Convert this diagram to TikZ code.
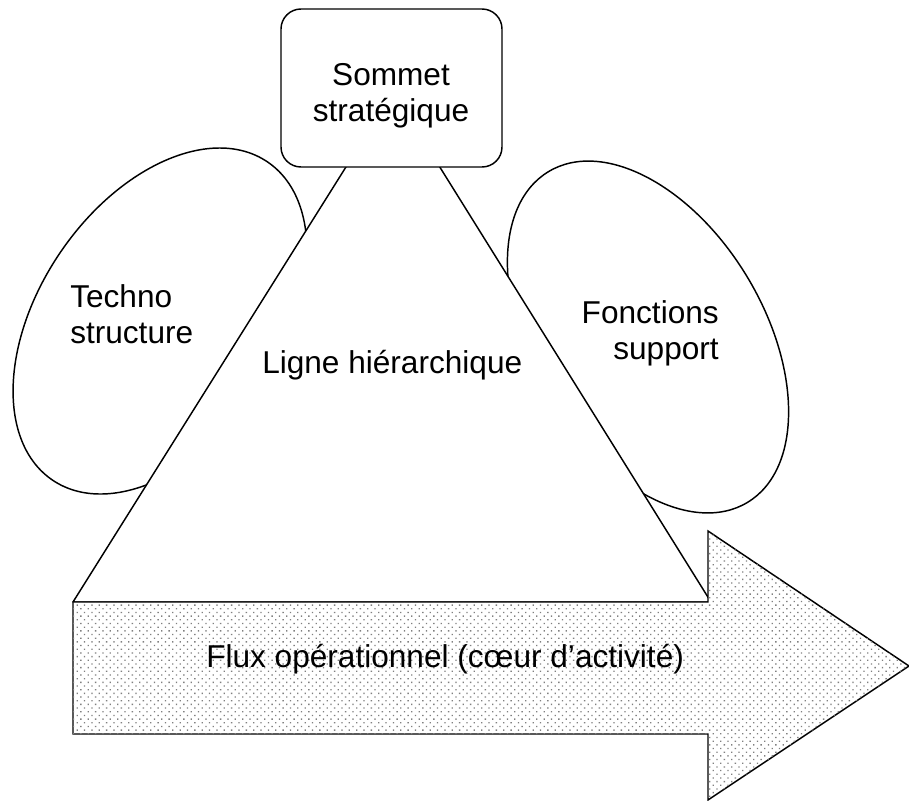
\documentclass[tikz,border=0pt]{standalone}
\usepackage{fontspec}
\setmainfont{Liberation Sans}
\usetikzlibrary{patterns.meta}
\begin{document}
\begin{tikzpicture}[x=0.75pt,y=-0.75pt,
  outline/.style={draw=black,line width=1.1pt,fill=white},
  lbl/.style={inner sep=0pt,font=\fontsize{23.7}{26.5}\selectfont},
  dotfill/.style={draw=black,line width=1.1pt,fill=white,
    postaction={pattern={Dots[radius=0.7pt,distance=3.9pt,angle=45]},pattern color=black!50}}]
\useasboundingbox (0,0) rectangle (909,800);
% ellipses
\draw[outline,rotate around={56:(160,321)}] (160,321) ellipse [x radius=192,y radius=121];
\draw[outline,rotate around={-59:(648,337)}] (648,337) ellipse [x radius=193,y radius=116];
% triangle
\coordinate (apex) at (393,92);
\coordinate (bl) at (73,602);
\coordinate (br) at (711,602);
\draw[outline,line join=round] (bl) -- (apex) -- (br) -- cycle;
% arrow
\coordinate (a1) at (73,602);
\coordinate (a2) at (708,602);
\coordinate (a3) at (708,531);
\coordinate (a4) at (909,666);
\coordinate (a5) at (708,800);
\coordinate (a6) at (708,734);
\coordinate (a7) at (73,734);
\draw[dotfill] (a1) -- (a2) -- (a3) -- (a4) -- (a5) -- (a6) -- (a7) -- cycle;
% top box
\draw[outline,rounded corners=15pt] (281,9) rectangle (502,167);
% labels (base anchor = baseline of the last line)
\node[lbl,align=center,anchor=base] (som) at (391,121) {Sommet\\stratégique};
\node[lbl,align=left,anchor=base west] (tech) at (70,343) {Techno\\structure};
\node[lbl,anchor=base west] (ligne) at (262,373) {Ligne hiérarchique};
\node[lbl,align=right,anchor=base east] (fonc) at (719,359) {Fonctions\\support};
\node[lbl,anchor=base west] (flux) at (206,667) {Flux opérationnel (cœur d’activité)};
\end{tikzpicture}
\end{document}
